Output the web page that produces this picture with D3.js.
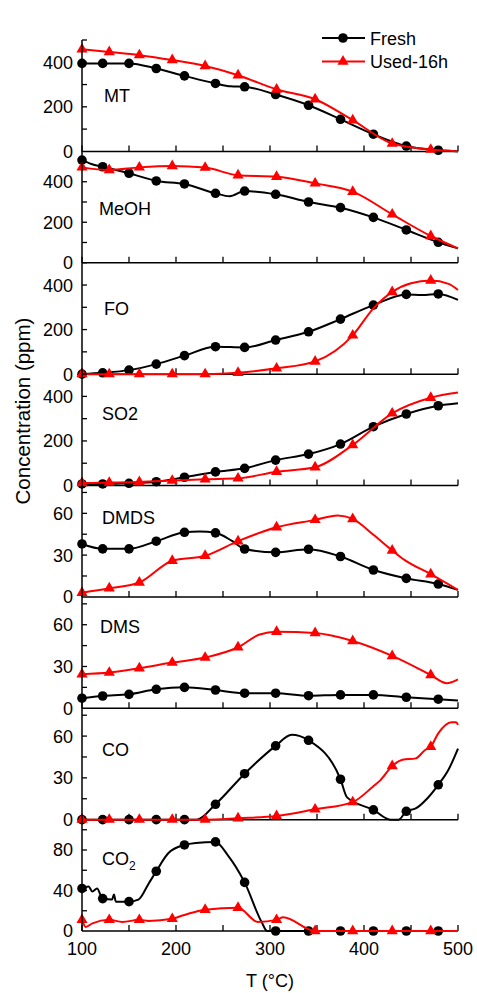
<!DOCTYPE html>
<html><head><meta charset="utf-8">
<script src="https://cdn.jsdelivr.net/npm/d3@7"></script>
<style>
body{margin:0;background:#fff}
text{font-family:"Liberation Sans",Arial,sans-serif;fill:#000}
</style>
</head><body><svg id="c" width="477" height="993"></svg>
<script>
// ---------- data ----------
const panelNames = ["MT","MeOH","FO","SO2","DMDS","DMS","CO","CO2"];
const yMax = [500,550,500,500,80,80,80,110];
const yMajor = [[0,200,400],[0,200,400],[0,200,400],[0,200,400],[0,30,60],[0,30,60],[0,30,60],[0,40,80]];
const yMinor = [[100,300,500],[100,300,500],[100,300,500],[100,300,500],[15,45,75],[15,45,75],[15,45,75],[20,60,100]];
const xMajor = [100,200,300,400,500];
const xMinor = [150,250,350,450];
const seriesNames = ["Fresh","Used-16h"];
const freshMarkerT = [100,122,150,179,209,242,273,306,341,375,410,445,479];
const usedMarkerT = [100,129,161,196,231,266,307,348,388,430,471];

const freshMT = [[100,395],[122,395],[150,395],[179,372],[209,339],[242,305],[258,292],[273,290],[306,255],[341,207],[375,144],[410,77],[445,24],[479,5],[500,0]];
const usedMT = [[100,458],[129,446],[161,432],[196,410],[231,383],[266,342],[307,278],[348,234],[388,140],[430,35],[471,8],[500,0]];
const freshMeOH = [[100,507],[110,488],[122,474],[150,442],[179,404],[209,389],[242,343],[257,328],[273,354],[306,338],[341,300],[375,272],[410,224],[445,162],[479,101],[500,71]];
const usedMeOH = [[100,471],[129,458],[161,471],[196,478],[231,470],[266,432],[307,425],[348,392],[388,351],[430,239],[471,132],[500,71]];
const freshFO = [[100,0],[122,6],[150,18],[179,45],[209,83],[242,123],[273,120],[306,153],[341,190],[375,247],[410,310],[445,358],[462,355],[479,360],[500,333]];
const usedFO = [[100,0],[129,0],[161,0],[196,0],[231,0],[266,6],[307,26],[348,57],[388,174],[410,295],[430,369],[450,408],[471,420],[490,405],[500,378]];
const freshSO2 = [[100,7],[122,7],[150,10],[179,17],[209,37],[242,61],[273,77],[306,114],[341,141],[375,186],[410,264],[445,321],[479,358],[500,369]];
const usedSO2 = [[100,11],[129,13],[161,16],[196,22],[231,28],[266,32],[307,62],[348,82],[388,182],[430,324],[471,394],[500,417]];
const freshDMDS = [[100,38],[122,34.5],[150,34.5],[179,40],[209,46.4],[225,47],[242,46],[260,40],[273,34.4],[306,32],[341,34.2],[375,29],[410,19.3],[445,13.3],[479,9.2],[500,5]];
const usedDMDS = [[100,3],[129,6.2],[161,10.3],[196,26],[231,29.5],[266,40],[307,50],[348,55.3],[372,58.5],[388,56],[410,44.6],[430,33.3],[443,26.6],[471,16.3],[500,5]];
const freshDMS = [[100,7.2],[122,8.8],[150,10],[179,13.6],[209,15],[242,13.1],[273,10.8],[306,10.8],[341,9],[375,9.6],[410,9.6],[445,7.9],[479,6.5],[500,5.5]];
const usedDMS = [[100,24.4],[129,25.6],[161,28.7],[196,32.8],[231,36.4],[266,43.8],[289,53],[307,55],[348,54],[388,48.3],[430,37.6],[471,23.9],[488,18],[500,20.8]];
const freshCO = [[100,0],[122,0],[150,0],[179,0],[209,0],[222,0],[242,11],[273,33],[306,53],[323,61],[341,57],[375,29],[382,16],[410,7],[428,0],[437,0],[445,6],[455,8],[467,15],[479,25],[490,36],[500,51]];
const usedCO = [[100,0],[129,0],[161,0],[196,0],[231,0],[266,1],[307,2.6],[348,7.4],[388,12.6],[410,24],[417,28],[430,38.5],[441,43],[455,44],[465,50],[471,52.4],[479,62],[493,70],[498,70],[500,68]];
const freshCO2 = [[100,42],[107,44],[111,39],[116,42],[122,32],[132,31],[134,36],[136,29],[150,29],[160,31],[171,47],[179,59],[192,77],[209,85],[221,87],[242,88],[255,75],[273,48],[291,9],[297,0],[306,0],[341,0],[375,0],[410,0],[445,0],[479,0],[500,0]];
const usedCO2 = [[100,11],[104,4],[111,7.6],[129,11],[143,9],[161,11],[171,10],[196,12],[206,15],[221,19],[231,21],[266,23],[287,9],[307,11],[314,13.5],[348,0],[388,0],[430,0],[471,0],[500,0]];

const freshData = [freshMT,freshMeOH,freshFO,freshSO2,freshDMDS,freshDMS,freshCO,freshCO2];
const usedData = [usedMT,usedMeOH,usedFO,usedSO2,usedDMDS,usedDMS,usedCO,usedCO2];

// ---------- layout ----------
const L = 82, R = 458, TOP = 40, BOT = 931;
const nP = panelNames.length;
const pH = (BOT - TOP) / nP;
const labelX = [104,99,104,102,102,100,102,102];
const labelDy = [62,64,52,46,38,36,48,45];
const colors = ["#000000","#ff0000"];

const svg = d3.select("#c");
const x = d3.scaleLinear().domain([100,500]).range([L,R]);

const circle = d3.symbol().type(d3.symbolCircle).size(Math.PI*4.8*4.8);
const tri = d3.symbol().type(d3.symbolTriangle).size(54);

for (let i = 0; i < nP; i++) {
  const y0 = TOP + i*pH, y1 = y0 + pH;
  const y = d3.scaleLinear().domain([0, yMax[i]]).range([y1, y0]);
  const g = svg.append("g");

  // bottom axis line
  g.append("line").attr("x1",L).attr("x2",R).attr("y1",y1).attr("y2",y1)
    .attr("stroke","#000").attr("stroke-width",1.5);
  // x ticks inward
  xMajor.concat(xMinor).forEach(t=>{
    g.append("line").attr("x1",x(t)).attr("x2",x(t)).attr("y1",y1).attr("y2",y1-6)
      .attr("stroke","#000").attr("stroke-width",1.3);
  });
  // y ticks inward
  yMajor[i].concat(yMinor[i]).filter(v=>v>0 && v<=yMax[i]).forEach(v=>{
    g.append("line").attr("x1",L).attr("x2",L+5).attr("y1",y(v)).attr("y2",y(v))
      .attr("stroke","#000").attr("stroke-width",1.3);
  });
  // y labels
  yMajor[i].forEach(v=>{
    g.append("text").attr("x",L-9).attr("y",y(v)).attr("dy","0.36em")
      .attr("text-anchor","end").attr("font-size",18).text(v);
  });
  // panel label
  const name = panelNames[i];
  const lt = g.append("text").attr("x",labelX[i]).attr("y",y0+labelDy[i]).attr("font-size",18);
  if (name === "CO2") {
    lt.append("tspan").text("CO");
    lt.append("tspan").attr("font-size",12).attr("dy",5).text("2");
  } else lt.text(name);

  const line = d3.line().x(d=>x(d[0])).y(d=>y(d[1])).curve(d3.curveMonotoneX);
  [[freshData[i],freshMarkerT,circle,colors[0]],[usedData[i],usedMarkerT,tri,colors[1]]].forEach(([data,mT,sym,col])=>{
    g.append("path").datum(data).attr("d",line).attr("fill","none")
      .attr("stroke",col).attr("stroke-width",2).attr("stroke-linejoin","round");
    g.selectAll(null).data(data.filter(d=>mT.includes(d[0]))).enter().append("path")
      .attr("d",sym).attr("transform",d=>`translate(${x(d[0])},${y(d[1])})`).attr("fill",col);
  });
}

// left axis line
svg.append("line").attr("x1",L).attr("x2",L).attr("y1",TOP).attr("y2",BOT)
  .attr("stroke","#000").attr("stroke-width",1.5);

// x tick labels
xMajor.forEach(t=>{
  svg.append("text").attr("x",x(t)).attr("y",955).attr("text-anchor","middle")
    .attr("font-size",18).text(t);
});
svg.append("text").attr("x",x(300)).attr("y",987).attr("text-anchor","middle")
  .attr("font-size",18).text("T (°C)");
svg.append("text").attr("transform","translate(30,411) rotate(-90)")
  .attr("text-anchor","middle").attr("font-size",20.5).text("Concentration (ppm)");

// legend
const leg = svg.append("g");
[[circle,colors[0],38,45],[tri,colors[1],61.5,67.5]].forEach(([sym,col,ly,tb],k)=>{
  leg.append("line").attr("x1",322).attr("x2",365).attr("y1",ly).attr("y2",ly)
    .attr("stroke",col).attr("stroke-width",2);
  leg.append("path").attr("d",sym).attr("transform",`translate(343,${ly})`).attr("fill",col);
  leg.append("text").attr("x",370).attr("y",tb).attr("font-size",18).text(seriesNames[k]);
});
</script>
</body></html>
